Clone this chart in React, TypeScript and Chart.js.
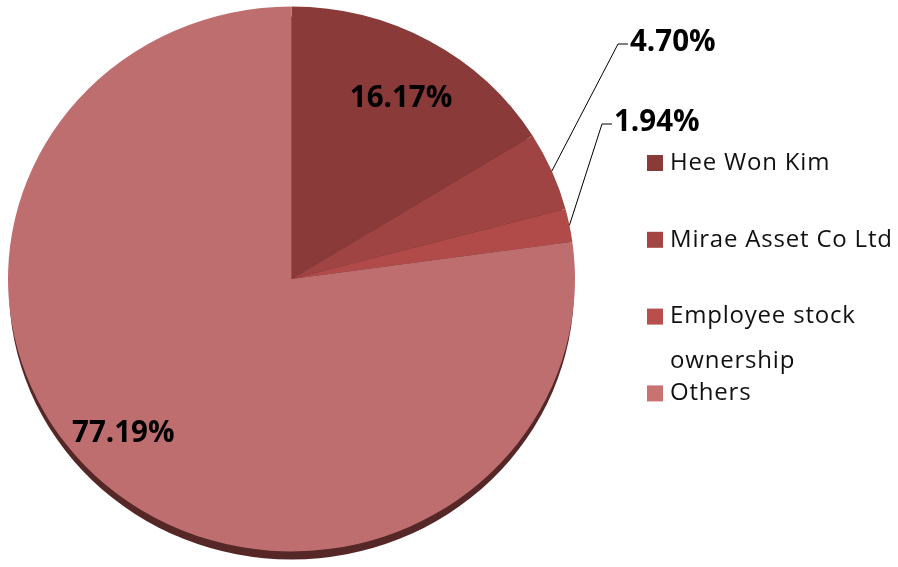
import React, { useEffect, useRef } from "react";
import { Chart, registerables } from "chart.js";

Chart.register(...registerables);

const categories = ["Hee Won Kim", "Mirae Asset Co Ltd", "Employee stock ownership", "Others"];
const shares = [16.17, 4.7, 1.94, 77.19];
const valueLabels = ["16.17%", "4.70%", "1.94%", "77.19%"];
const sliceColors = ["#8A3A39", "#9F4442", "#B04B4A", "#BF6E70"];
const legendColors = ["#8B3A3A", "#A24543", "#B94F4D", "#C87272"];

const CENTER_Y = 279;
const SCALE_Y = 0.961;
const RIM = 9;

function midY(chart: any) {
  const ca = chart.chartArea;
  return (ca.top + ca.bottom) / 2;
}
function mapY(chart: any, y: number) {
  return CENTER_Y + (y - midY(chart)) * SCALE_Y;
}

const tiltPlugin = {
  id: "tilt",
  beforeDatasetsDraw(chart: any) {
    const ctx = chart.ctx;
    const c = midY(chart);
    const arc = chart.getDatasetMeta(0).data[0] as any;
    ctx.save();
    ctx.save();
    ctx.translate(0, CENTER_Y + RIM);
    ctx.scale(1, SCALE_Y);
    ctx.translate(0, -c);
    ctx.beginPath();
    ctx.arc(arc.x, arc.y, arc.outerRadius - 1, 0, Math.PI * 2);
    ctx.fillStyle = "#552727";
    ctx.fill();
    ctx.restore();
    ctx.translate(0, CENTER_Y);
    ctx.scale(1, SCALE_Y);
    ctx.translate(0, -c);
  },
  afterDatasetsDraw(chart: any) {
    chart.ctx.restore();
  },
};

const labelPlugin = {
  id: "pctLabels",
  afterDraw(chart: any, _args: any, opts: any) {
    const ctx = chart.ctx;
    const arcs = chart.getDatasetMeta(0).data as any[];
    ctx.save();
    ctx.font = "bold 29.5px 'Open Sans', 'Noto Sans', sans-serif";
    ctx.fillStyle = "#000";
    ctx.textBaseline = "middle";
    arcs.forEach((arc, i) => {
      const place = opts.placement[i];
      const mid = (arc.startAngle + arc.endAngle) / 2;
      if (place.inside) {
        const a = mid + (place.da * Math.PI) / 180;
        const r = arc.outerRadius * place.rf;
        const x = arc.x + r * Math.cos(a);
        const y = mapY(chart, arc.y + r * Math.sin(a));
        ctx.textAlign = "center";
        ctx.fillText(valueLabels[i], x, y);
      } else {
        const r = arc.outerRadius;
        const px = arc.x + r * Math.cos(mid);
        const py = mapY(chart, arc.y + r * Math.sin(mid));
        ctx.beginPath();
        ctx.moveTo(px, py);
        ctx.lineTo(place.ex, place.ey);
        ctx.lineTo(place.ex + place.len, place.ey);
        ctx.strokeStyle = "#000";
        ctx.lineWidth = 1;
        ctx.stroke();
        ctx.textAlign = "left";
        ctx.fillText(valueLabels[i], place.ex + place.len + 2, place.ey - 1);
      }
    });
    ctx.restore();
  },
};

const legendPlugin = {
  id: "sideLegend",
  afterDraw(chart: any, _args: any, opts: any) {
    const ctx = chart.ctx;
    ctx.save();
    ctx.font = "24px 'Open Sans', 'Noto Sans', sans-serif";
    (ctx as any).letterSpacing = "0.8px";
    ctx.textBaseline = "middle";
    ctx.textAlign = "left";
    const labels: string[] = chart.data.labels;
    labels.forEach((label, i) => {
      const y = opts.top + i * opts.pitch;
      ctx.fillStyle = legendColors[i];
      ctx.fillRect(opts.x, y - 8, 16, 16);
      ctx.fillStyle = "#111";
      const words = label.split(" ");
      const lines: string[] = [];
      let cur = "";
      words.forEach((w) => {
        const t = cur ? cur + " " + w : w;
        if (ctx.measureText(t).width > opts.maxWidth && cur) {
          lines.push(cur);
          cur = w;
        } else cur = t;
      });
      lines.push(cur);
      lines.forEach((ln, k) => ctx.fillText(ln, opts.x + 23, y + k * opts.lineGap));
    });
    ctx.restore();
  },
};

export default function App() {
  const ref = useRef<HTMLCanvasElement>(null);
  useEffect(() => {
    document.body.style.margin = "0";
    const chart = new Chart(ref.current as HTMLCanvasElement, {
      type: "pie",
      data: {
        labels: categories,
        datasets: [
          {
            data: shares,
            backgroundColor: sliceColors,
            borderWidth: 0,
          },
        ],
      },
      options: {
        animation: false,
        responsive: false,
        layout: { padding: { left: 8, right: 323, top: 0, bottom: 0 } },
        plugins: {
          legend: { display: false },
          tooltip: { enabled: false },
          pctLabels: {
            placement: [
              { inside: true, rf: 0.768, da: 1.1 },
              { inside: false, ex: 618, ey: 44, len: 10 },
              { inside: false, ex: 602, ey: 124, len: 10 },
              { inside: true, rf: 0.82, da: 5.3 },
            ],
          },
          sideLegend: { x: 647, top: 163, pitch: 76.8, lineGap: 45, maxWidth: 226 },
        } as any,
      },
      plugins: [tiltPlugin, labelPlugin, legendPlugin],
    });
    return () => chart.destroy();
  }, []);
  return (
    <div style={{ width: 898, height: 567, overflow: "hidden", background: "#fff" }}>
      <canvas ref={ref} width={898} height={567} style={{ display: "block" }} />
    </div>
  );
}
